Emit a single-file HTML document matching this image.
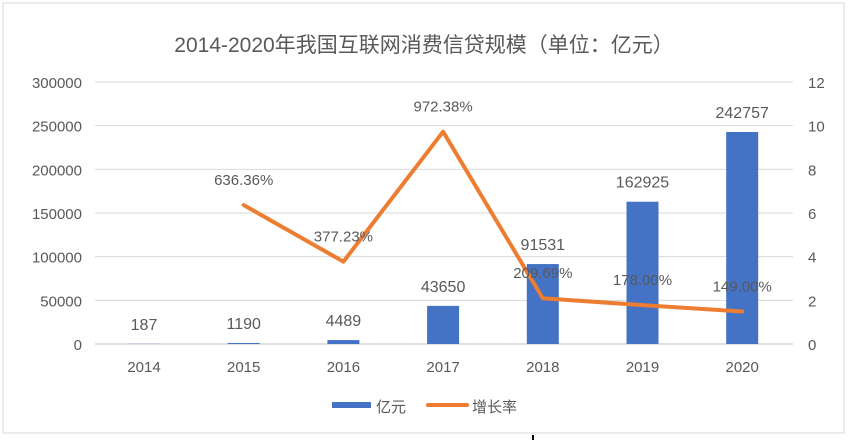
<!DOCTYPE html>
<html><head><meta charset="utf-8"><style>
body{margin:0;background:#fff;}
svg{display:block;font-family:"Liberation Sans","Noto Sans CJK SC",sans-serif;}
</style></head><body>
<svg id="c" width="848" height="444" viewBox="0 0 848 444">
<rect x="3" y="3" width="841" height="430" fill="#fff" stroke="#d9d9d9"/>
<text x="424" y="52" text-anchor="middle" font-size="21" fill="#595959">2014-2020年我国互联网消费信贷规模（单位：亿元）</text>
<g id="grid"></g><g id="bars"></g><g id="line"></g><g id="labels"></g>
<g>
<rect x="332" y="402" width="39" height="6" fill="#4472c4"/>
<text x="376" y="412" font-size="15" fill="#595959">亿元</text>
<line x1="428" y1="405" x2="467" y2="405" stroke="#ed7d31" stroke-width="4" stroke-linecap="round"/>
<text x="472" y="412" font-size="15" fill="#595959">增长率</text>
</g>
<rect x="532" y="435" width="2" height="5" fill="#000"/>
</svg>
<script>
const categories=["2014","2015","2016","2017","2018","2019","2020"];
const amounts=[187,1190,4489,43650,91531,162925,242757];
const growth=[null,6.3636,3.7723,9.7238,2.0969,1.78,1.49];
const growthLabels=["","636.36%","377.23%","972.38%","209.69%","178.00%","149.00%"];
const leftTicks=[0,50000,100000,150000,200000,250000,300000];
const rightTicks=[0,2,4,6,8,10,12];
const NS="http://www.w3.org/2000/svg";
const y0=344,yTop=82,xL=95,xR=793;
const yL=v=>y0-(v/300000)*(y0-yTop);
const yR=v=>y0-(v/12)*(y0-yTop);
const xC=i=>144+i*99.7;
function mk(p,tag,a){const e=document.createElementNS(NS,tag);for(const k in a)e.setAttribute(k,a[k]);document.getElementById(p).appendChild(e);return e;}
leftTicks.forEach((t,i)=>{
 const g=mk("grid","line",{x1:xL,x2:xR,y1:yL(t),y2:yL(t),stroke:i==0?"#bfbfbf":"#d9d9d9"});
 
 
 const tl=mk("grid","text",{x:82,y:yL(t)+6,"text-anchor":"end","font-size":"15",fill:"#595959"});tl.textContent=t;
 
 
});
rightTicks.forEach(t=>{
 const tl=mk("grid","text",{x:808,y:yR(t)+6,"font-size":"15",fill:"#595959"});tl.textContent=t;
 
 
});
categories.forEach((c,i)=>{
 const tl=mk("grid","text",{x:xC(i),y:372,"text-anchor":"middle","font-size":"15",fill:"#595959"});tl.textContent=c;
 
 
 const b=mk("bars","rect",{x:xC(i)-16,width:32,y:yL(amounts[i]),height:y0-yL(amounts[i]),fill:"#4472c4"});
 
 
 const v=mk("labels","text",{x:xC(i),y:yL(amounts[i])-14,"text-anchor":"middle","font-size":"16",fill:"#595959"});v.textContent=amounts[i];
 
 
});
let pts=[];
growth.forEach((g,i)=>{if(g!==null)pts.push(xC(i)+","+yR(g));});
const pl=mk("line","polyline",{points:pts.join(" "),fill:"none",stroke:"#ed7d31","stroke-width":"4","stroke-linejoin":"round","stroke-linecap":"round"});


growth.forEach((g,i)=>{if(g===null)return;
 const t=mk("labels","text",{x:xC(i),y:yR(g)-20,"text-anchor":"middle","font-size":"15",fill:"#595959"});t.textContent=growthLabels[i];
 
 
});
</script>
</body></html>
